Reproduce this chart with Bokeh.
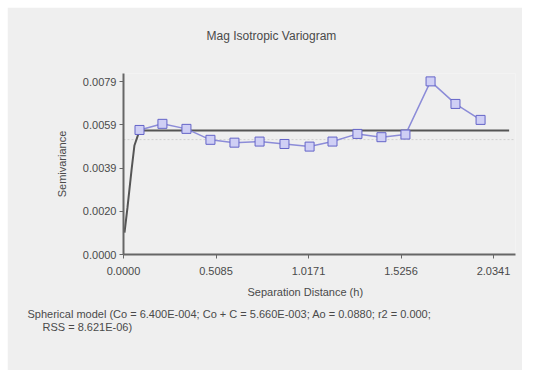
from bokeh.plotting import figure
from bokeh.models import Range1d, FixedTicker, Title
from bokeh.embed import file_html
from bokeh.resources import INLINE

lag_h = [0.088, 0.214, 0.346, 0.478, 0.610, 0.748, 0.885, 1.023, 1.149, 1.286, 1.418, 1.550, 1.688, 1.825, 1.963]
semivar = [0.00569, 0.00597, 0.00574, 0.00524, 0.00511, 0.00516, 0.00505, 0.00493, 0.00516, 0.00551, 0.00536, 0.00548, 0.00791, 0.00688, 0.00615]

# Fitted spherical model curve
model_h = [0.0055, 0.022, 0.044, 0.060, 0.088, 2.12]
model_g = [0.00100, 0.00215, 0.00384, 0.00498, 0.00566, 0.00566]

# Dotted reference (sample variance)
var_h = [0.0, 2.155]
var_g = [0.00525, 0.00525]

x_ticks = [0.0, 0.50853, 1.01705, 1.52558, 2.0341]
x_tick_labels = ["0.0000", "0.5085", "1.0171", "1.5256", "2.0341"]
y_ticks = [0.0, 0.001975, 0.00395, 0.005925, 0.0079]
y_tick_labels = ["0.0000", "0.0020", "0.0039", "0.0059", "0.0079"]

title_text = "Mag Isotropic Variogram"
x_label = "Separation Distance (h)"
y_label = "Semivariance"
caption1 = "Spherical model (Co = 6.400E-004; Co + C = 5.660E-003; Ao = 0.0880; r2 = 0.000;"
caption2 = "RSS = 8.621E-06)"

FONT = "Liberation Sans"
FS = "11px"
BG = "#efefef"
TXT = "#4a4a4a"

p = figure(width=515, height=363, output_backend="svg", toolbar_location=None,
           x_range=Range1d(0, 2.155), y_range=Range1d(0, 0.00827),
           min_border_left=116, min_border_right=7, min_border_top=66, min_border_bottom=116)
p.margin = (7, 0, 0, 7)
p.background_fill_color = BG
p.border_fill_color = BG
p.outline_line_color = None
p.grid.visible = False

for ax in (p.xaxis[0], p.yaxis[0]):
    ax.axis_line_color = "#666666"
    ax.axis_line_width = 2
    ax.major_tick_line_color = "#666666"
    ax.major_tick_in = 0
    ax.major_tick_out = 4
    ax.minor_tick_line_color = None
    ax.major_label_text_font = FONT
    ax.major_label_text_font_size = FS
    ax.major_label_text_color = TXT
    ax.axis_label_text_font = FONT
    ax.axis_label_text_font_size = FS
    ax.axis_label_text_font_style = "normal"
    ax.axis_label_text_color = TXT

p.xaxis.ticker = FixedTicker(ticks=x_ticks)
p.xaxis.major_label_overrides = {t: l for t, l in zip(x_ticks, x_tick_labels)}
p.yaxis.ticker = FixedTicker(ticks=y_ticks)
p.yaxis.major_label_overrides = {t: l for t, l in zip(y_ticks, y_tick_labels)}
p.yaxis.axis_label = y_label
p.xaxis.major_label_standoff = 8
p.yaxis.major_label_standoff = 3
p.yaxis.axis_label_standoff = 12

p.line(var_h, var_g, line_color="#d0d0d0", line_width=1, line_dash="2 2")
p.line(model_h, model_g, line_color="#555555", line_width=2)
p.line(lag_h, semivar, line_color="#8c8cd8", line_width=1.5)
p.scatter(lag_h, semivar, marker="square", size=9, fill_color="#cfcff5",
          line_color="#6464c8", line_width=1)

def mk_title(text, offset, standoff, size=FS):
    return Title(text=text, align="left", offset=offset, standoff=standoff,
                 text_font=FONT, text_font_size=size, text_font_style="normal",
                 text_color=TXT)

# blank spacer panel between frame and the chart title
p.add_layout(mk_title(" ", 0, 15, "12px"), "above")
p.add_layout(mk_title(title_text, 83, 0, "12px"), "above")
p.add_layout(mk_title(x_label, 124, 13), "below")
p.add_layout(mk_title(caption1, -96, 3), "below")
p.add_layout(mk_title(caption2, -81, -6), "below")

open("out.html", "w").write(file_html(p, INLINE))
